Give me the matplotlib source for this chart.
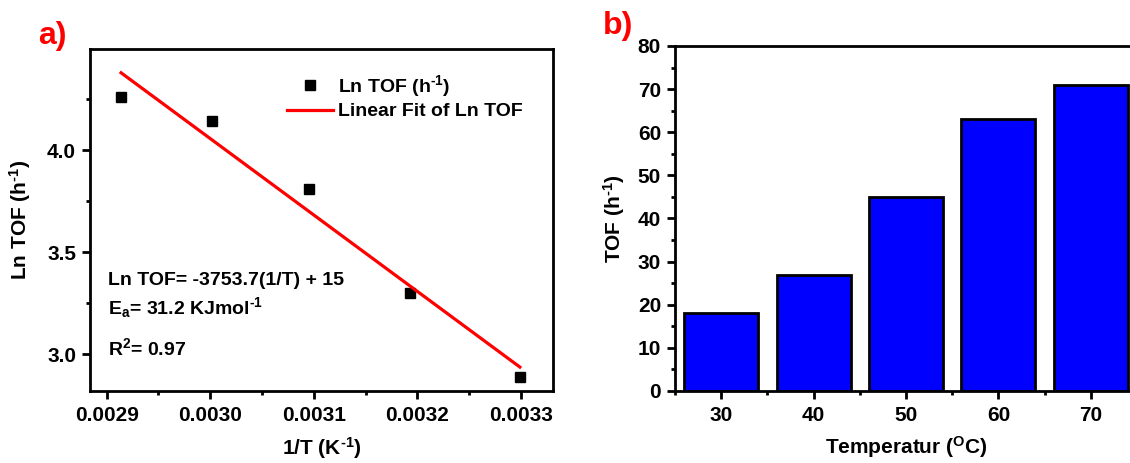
import numpy as np
import matplotlib
matplotlib.use("Agg")
import matplotlib.pyplot as plt
from matplotlib.ticker import MultipleLocator

plt.rcParams['font.family'] = ['Liberation Sans', 'DejaVu Sans']
plt.rcParams['font.weight'] = 'bold'
plt.rcParams['mathtext.fontset'] = 'custom'
plt.rcParams['mathtext.rm'] = 'Liberation Sans:bold'
plt.rcParams['mathtext.it'] = 'Liberation Sans:bold'
plt.rcParams['mathtext.bf'] = 'Liberation Sans:bold'
plt.rcParams['mathtext.default'] = 'rm'

# Arrhenius data (panel a)
inv_T = [0.002914, 0.003002, 0.003095, 0.003193, 0.003299]
ln_tof = [4.26, 4.14, 3.81, 3.30, 2.89]

# TOF vs temperature (panel b)
temps = [30, 40, 50, 60, 70]
tof = [18, 27, 45, 63, 71]

fig = plt.figure(figsize=(11.3, 4.63), dpi=100)

# ---- panel a ----
ax1 = fig.add_axes([90/1130, 1-391/463, 463/1130, 342/463])
ax1.plot(inv_T, ln_tof, linestyle='none', marker='s', ms=7, color='black',
         label='Ln TOF (h$^{\\text{-}1}$)')
slope, icpt = np.polyfit(inv_T, ln_tof, 1)
xfit = np.array([inv_T[0], inv_T[-1]])
ax1.plot(xfit, slope*xfit + icpt, color='#ff0000', lw=2.3, label='Linear Fit of Ln TOF')

ax1.set_xlim(0.002884, 0.003331)
ax1.set_ylim(2.82, 4.495)
ax1.xaxis.set_major_locator(MultipleLocator(0.0001))
ax1.xaxis.set_minor_locator(MultipleLocator(0.00005))
ax1.yaxis.set_major_locator(MultipleLocator(0.5))
ax1.yaxis.set_minor_locator(MultipleLocator(0.25))
ax1.xaxis.set_major_formatter(plt.FuncFormatter(lambda v, p: f"{v:.4f}"))
ax1.yaxis.set_major_formatter(plt.FuncFormatter(lambda v, p: f"{v:.1f}"))
ax1.set_xlabel('1/T (K$^{\\text{-}1}$)', fontsize=15, fontweight='bold', labelpad=7)
ax1.set_ylabel('Ln TOF (h$^{\\text{-}1}$)', fontsize=15, fontweight='bold', labelpad=10)

ax1.legend(loc='upper left', bbox_to_anchor=(0.425, 0.93), frameon=False,
           fontsize=14, handlelength=2.4, handletextpad=0.25, labelspacing=0.2,
           borderpad=0, borderaxespad=0, numpoints=1)

ax1.text(0.039, 0.322, 'Ln TOF= -3753.7(1/T) + 15', transform=ax1.transAxes,
         fontsize=14, fontweight='bold', va='center')
ax1.text(0.039, 0.245, 'E$_a$= 31.2 KJmol$^{\\text{-}1}$', transform=ax1.transAxes,
         fontsize=14, fontweight='bold', va='center')
ax1.text(0.039, 0.125, 'R$^2$= 0.97', transform=ax1.transAxes,
         fontsize=14, fontweight='bold', va='center')

fig.text(52/1130, 1-36/463, 'a)', color='#ff0000', fontsize=23,
         fontweight='bold', ha='center', va='center')

# ---- panel b ----
ax2 = fig.add_axes([675/1130, 1-391/463, 462/1130, 345/463])
ax2.bar(temps, tof, width=8, color='#0000ff', edgecolor='black', linewidth=2)
ax2.set_xlim(25, 75)
ax2.set_ylim(0, 80)
ax2.xaxis.set_major_locator(MultipleLocator(10))
ax2.xaxis.set_minor_locator(MultipleLocator(5))
ax2.yaxis.set_major_locator(MultipleLocator(10))
ax2.yaxis.set_minor_locator(MultipleLocator(5))
ax2.set_xlabel('Temperatur ($^{\\mathrm{O}}$C)', fontsize=15, fontweight='bold', labelpad=6)
ax2.set_ylabel('TOF (h$^{\\text{-}1}$)', fontsize=15, fontweight='bold', labelpad=8)

fig.text(618/1130, 1-26/463, 'b)', color='#ff0000', fontsize=23,
         fontweight='bold', ha='center', va='center')

for ax in (ax1, ax2):
    for s in ax.spines.values():
        s.set_linewidth(2)
    ax.tick_params(which='major', direction='out', length=6, width=2,
                   labelsize=15, top=False, right=False)
    ax.tick_params(which='minor', direction='out', length=3, width=2,
                   top=False, right=False)
    ax.tick_params(axis='x', which='major', pad=5)
    ax.tick_params(axis='y', which='major', pad=4)
    for lab in ax.get_xticklabels() + ax.get_yticklabels():
        lab.set_fontweight('bold')

fig.savefig('out.png', dpi=100)
